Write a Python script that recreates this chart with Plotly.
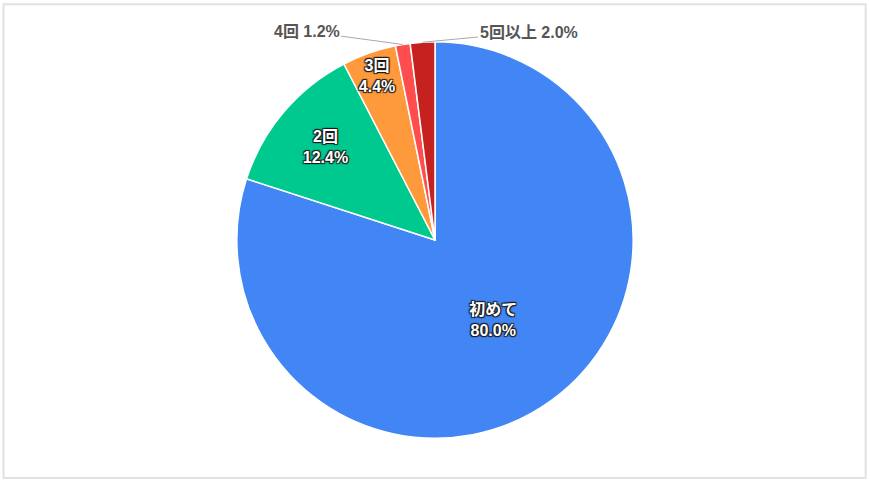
import math
import plotly.graph_objects as go

# visit count breakdown (share of respondents, %)
labels = ['初めて', '2回', '3回', '4回', '5回以上']
values = [80.0, 12.4, 4.4, 1.2, 2.0]
colors = ['#4285F4', '#00C98F', '#FF9A3C', '#FF4D4F', '#C5221F']
text_pos = ['inside', 'inside', 'inside', 'none', 'none']

W, H = 870, 481
font_family = 'Liberation Sans, Arial, Noto Sans CJK JP'
outline = '1px 1px 1px #1a1a1a, -1px -1px 1px #1a1a1a, 1px -1px 1px #1a1a1a, -1px 1px 1px #1a1a1a'

dom_x = [0.272, 0.728]
dom_y = [0.089, 0.913]

fig = go.Figure(
    go.Pie(
        labels=labels,
        values=values,
        sort=False,
        direction='clockwise',
        rotation=0,
        marker=dict(colors=colors, line=dict(color='white', width=1.5)),
        textposition=text_pos,
        texttemplate='%{label}<br>%{value:.1f}%',
        insidetextorientation='horizontal',
        insidetextfont=dict(family=font_family, size=16, color='white',
                            weight='bold', shadow=outline),
        domain=dict(x=dom_x, y=dom_y),
        hoverinfo='label+percent',
        showlegend=False,
    )
)

# small slices get outside labels with leader lines to the slice middle
cx = (dom_x[0] + dom_x[1]) / 2 * W
cy = (1 - (dom_y[0] + dom_y[1]) / 2) * H
r = min((dom_x[1] - dom_x[0]) * W, (dom_y[1] - dom_y[0]) * H) / 2
total = sum(values)
offsets = {3: (-96, -13), 4: (106, -10)}
for i, (ax, ay) in offsets.items():
    mid = (sum(values[:i]) + values[i] / 2) / total * 2 * math.pi
    px = cx + r * math.sin(mid)
    py = cy - r * math.cos(mid)
    fig.add_annotation(
        x=px / W, y=1 - py / H, xref='paper', yref='paper',
        text=f'{labels[i]} {values[i]:.1f}%',
        showarrow=True, arrowhead=0, arrowwidth=1, arrowcolor='#aaaaaa',
        ax=ax, ay=ay,
        font=dict(family=font_family, size=16, color='#555555', weight='bold'),
    )

# light frame around the chart
fig.add_shape(type='rect', xref='paper', yref='paper',
              x0=0.004, x1=0.995, y0=0.006, y1=0.991,
              line=dict(color='#e2e2e2', width=2))

fig.update_layout(
    width=W, height=H,
    margin=dict(l=0, r=0, t=0, b=0),
    paper_bgcolor='white',
    plot_bgcolor='white',
    font=dict(family=font_family),
    uniformtext=dict(minsize=16, mode='show'),
)

fig.write_html("out.html", config={'displayModeBar': False},
               post_script="document.body.style.margin='0';")
